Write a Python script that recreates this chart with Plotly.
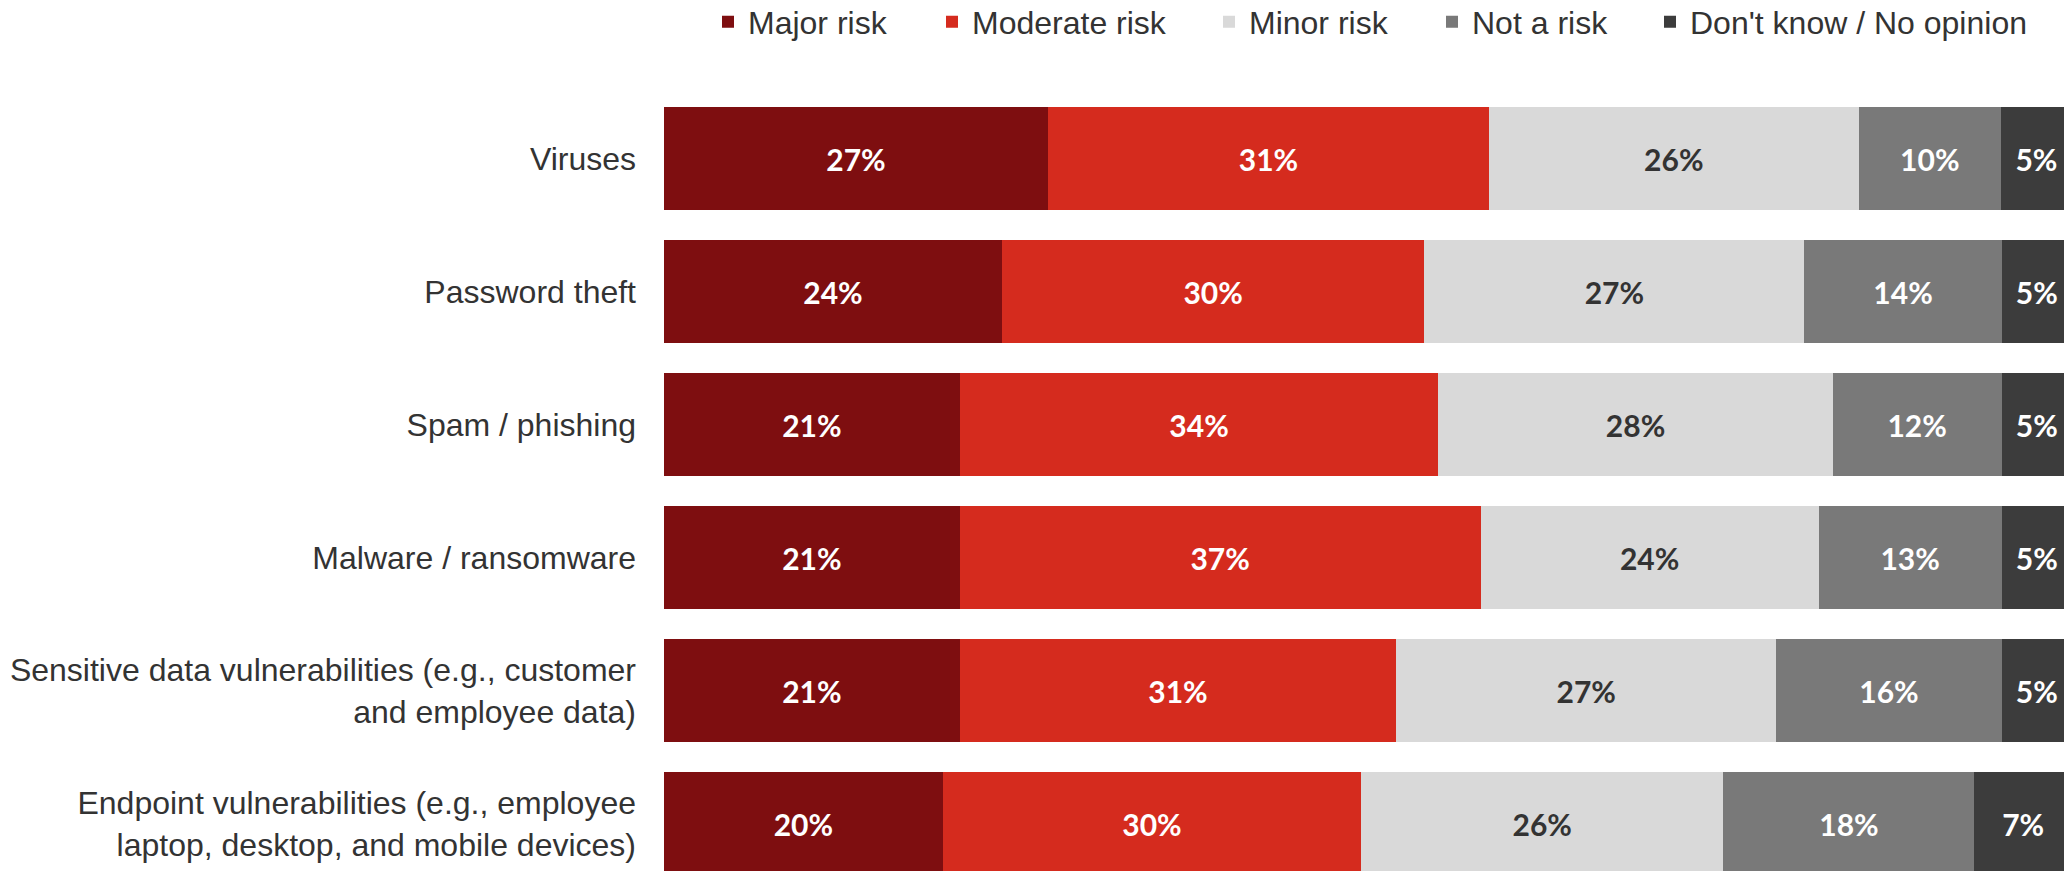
import plotly.graph_objects as go

categories = [
    "Viruses",
    "Password theft",
    "Spam / phishing",
    "Malware / ransomware",
    "Sensitive data vulnerabilities (e.g., customer<br>and employee data)",
    "Endpoint vulnerabilities (e.g., employee<br>laptop, desktop, and mobile devices)",
]
series_names = ["Major risk", "Moderate risk", "Minor risk", "Not a risk", "Don't know / No opinion"]
major = [27, 24, 21, 21, 21, 20]
moderate = [31, 30, 34, 37, 31, 30]
minor = [26, 27, 28, 24, 27, 26]
not_risk = [10, 14, 12, 13, 16, 18]
dont_know = [5, 5, 5, 5, 5, 7]

series_values = [major, moderate, minor, not_risk, dont_know]
colors = ["#7E0E10", "#D52B1E", "#D9D9D9", "#797979", "#3C3C3C"]
text_colors = ["#FFFFFF", "#FFFFFF", "#333333", "#FFFFFF", "#FFFFFF"]

OFF = 8  # page body margin
W, H = 2072 - OFF, 871
ML, MT = 664 - OFF, 92 - OFF
PW = W - ML
PH = H - MT

# legend text start positions (page pixels) in the reference
legend_text_px = [748, 972, 1249, 1472, 1690]

fig = go.Figure()
for i, (name, vals) in enumerate(zip(series_names, series_values)):
    lg = "legend" if i == 0 else f"legend{i+1}"
    fig.add_trace(go.Bar(
        y=categories, x=vals, name=name, orientation="h",
        marker=dict(color=colors[i], line=dict(width=0)),
        text=[f"{v}%" for v in vals],
        textposition="inside", insidetextanchor="middle", textangle=0,
        textfont=dict(family="Lato", size=30, color=text_colors[i], weight=700),
        hoverinfo="skip",
        legend=lg,
    ))

layout_legends = {}
for i, px in enumerate(legend_text_px):
    key = "legend" if i == 0 else f"legend{i+1}"
    layout_legends[key] = dict(
        x=(px - OFF - 40 - ML) / PW, xanchor="left",
        y=1 + (MT - 14) / PH, yanchor="middle",
        orientation="h", bgcolor="rgba(0,0,0,0)", borderwidth=0,
        font=dict(family="Liberation Sans, Arial, sans-serif", size=32, color="#333333"),
    )

fig.update_layout(
    width=W, height=H,
    margin=dict(l=ML, r=0, t=MT, b=0, pad=0, autoexpand=False),
    barmode="stack", barnorm="percent", bargap=0.226,
    plot_bgcolor="white", paper_bgcolor="white",
    showlegend=True,
    xaxis=dict(range=[0, 100], visible=False, fixedrange=True),
    yaxis=dict(
        range=[5.417, -0.5], showgrid=False, zeroline=False, showline=False,
        ticks="", ticklabelstandoff=27,
        tickfont=dict(family="Liberation Sans, Arial, sans-serif", size=32, color="#333333"),
    ),
    **layout_legends,
)

fig.write_html("out.html")
